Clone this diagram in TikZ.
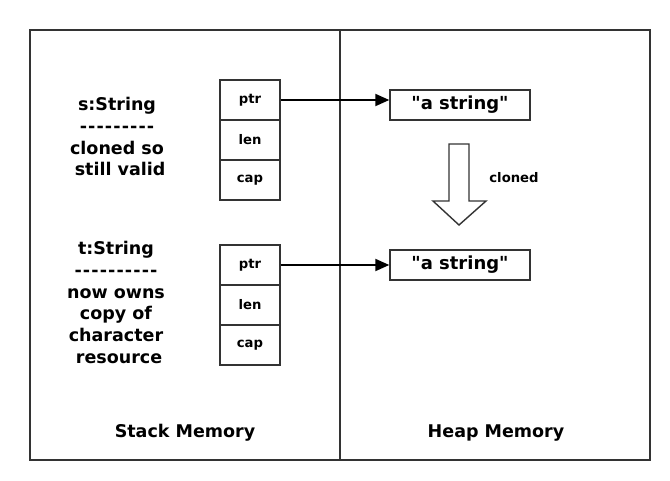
\documentclass[tikz,border=0pt]{standalone}
\usepackage{fontspec}
\newfontfamily\vf{DejaVu Sans}
\usetikzlibrary{arrows.meta}
\definecolor{ln}{HTML}{333333}
\newcommand\dd{\makebox[0.48em]{-}}
\newcommand\low[1]{\raisebox{-2.5pt}{#1}}
\begin{document}
\begin{tikzpicture}[x=1pt,y=-1pt,
  every node/.style={font=\vf\bfseries, text=black},
  cell/.style={draw=ln, line width=1.4pt, minimum width=60pt, minimum height=40pt, inner sep=0pt, font=\vf\bfseries\fontsize{13.2}{15}\selectfont},
  heapbox/.style={draw=ln, line width=1.4pt, minimum width=140pt, minimum height=30pt, inner sep=0pt, font=\vf\bfseries\fontsize{18}{20}\selectfont},
  desc/.style={align=center, inner sep=0pt, font=\vf\bfseries\fontsize{17.5}{21.8}\selectfont},
  mem/.style={inner sep=0pt, font=\vf\bfseries\fontsize{17.5}{20}\selectfont},
  ptrarrow/.style={line width=2pt, black, -{Triangle[length=14pt,width=12pt]}}]
\useasboundingbox (0,0) rectangle (670,480);
% frame
\draw[ln, line width=1.5pt] (30,30) rectangle (650,460);
\draw[ln, line width=1.5pt] (340,30) -- (340,460);
% stack s
\node[cell] (sptr) at (250,100) {\low{ptr}};
\node[cell] (slen) at (250,140) {\low{len}};
\node[cell] (scap) at (250,180) {\low{cap}};
% stack t
\node[cell] (tptr) at (250,265) {\low{ptr}};
\node[cell] (tlen) at (250,305) {\low{len}};
\node[cell] (tcap) at (250,345) {\low{cap}};
% heap
\node[heapbox] (sheap) at (460,105) {"a string"};
\node[heapbox] (theap) at (460,265) {"a string"};
% descriptions
\node[desc, anchor=north] (sdesc) at (117,97) {s:String\\\dd\dd\dd\dd\dd\dd\dd\dd\dd\\cloned so\\\hspace*{0.35em}still valid};
\node[desc, anchor=north] (tdesc) at (116,241) {t:String\\\dd\dd\dd\dd\dd\dd\dd\dd\dd\dd\\now owns\\copy of\\character\\\hspace*{0.35em}resource};
% pointer arrows
\draw[ptrarrow] (sptr.east) -- (sptr.east -| sheap.west);
\draw[ptrarrow] (tptr.east) -- (tptr.east -| theap.west);
% clone block arrow
\draw[ln, line width=1.4pt, fill=white] (449,144) -- (469,144) -- (469,201) -- (486,201) -- (459,225) -- (433,201) -- (449,201) -- cycle;
\node[inner sep=0pt, font=\vf\bfseries\fontsize{13.2}{15}\selectfont] (clonelbl) at (514,178) {cloned};
% labels
\node[mem] (stacklbl) at (185,433) {Stack Memory};
\node[mem] (heaplbl) at (496,433) {Heap Memory};
\end{tikzpicture}
\end{document}
